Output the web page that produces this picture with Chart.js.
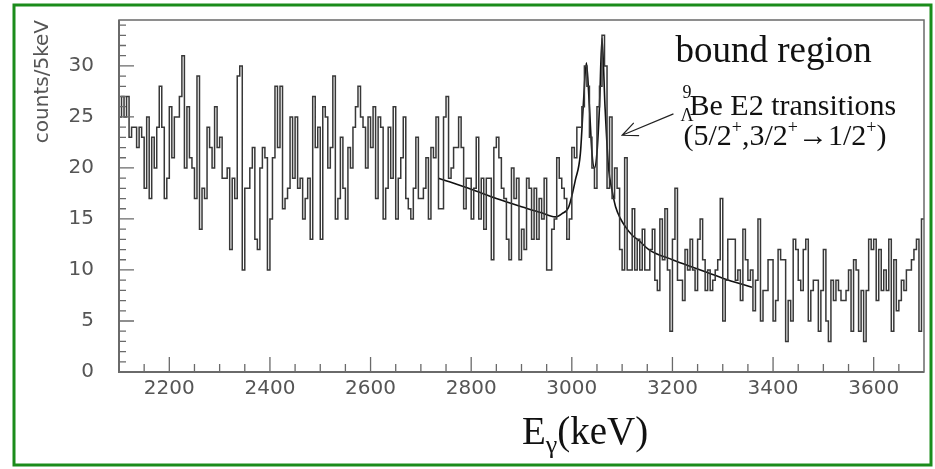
<!DOCTYPE html>
<html lang="en">
<head>
<meta charset="UTF-8">
<title>Bound region - E2 transitions</title>
<script src="https://cdn.jsdelivr.net/npm/chart.js"></script>
<style>
    body {
        margin: 0;
        padding: 0;
        background: #fff;
    }
    .container {
        position: relative;
        width: 935px;
        height: 469px;
    }
</style>
</head>
<body>
<div class="container"><canvas id="grafico"></canvas></div>
<script>
// histogram: 5 keV bins, first bin starts at 2100 keV
const binStart = 2100;
const binWidth = 5;

// counts per bin (one array per 300-400 keV stretch)
const counts2100 = [25, 27, 25, 27, 23, 24, 24, 22, 24, 23, 18, 25, 17, 23, 20, 24, 28, 24, 17, 19,
                    26, 21, 25, 25, 27, 31, 20, 26, 21, 20, 17, 29, 14, 18, 17, 24, 22, 20, 26, 22,
                    23, 19, 19, 20, 12, 19, 17, 29, 30, 10, 18, 18, 20, 22, 13, 12, 20, 22, 21, 10];
const counts2400 = [15, 21, 28, 22, 28, 16, 17, 18, 25, 19, 25, 18, 19, 15, 17, 19, 13, 27, 22, 24,
                    13, 26, 25, 20, 22, 29, 15, 17, 23, 18, 15, 22, 20, 24, 26, 28, 25, 24, 20, 25,
                    22, 26, 17, 25, 24, 15, 18, 24, 19, 26, 15, 19, 21, 25, 17, 16, 15, 18, 23, 17];
const counts2700 = [17, 18, 21, 15, 22, 21, 25, 16, 16, 25, 27, 19, 20, 22, 22, 25, 22, 16, 19, 19,
                    15, 18, 23, 15, 19, 14, 19, 19, 11, 22, 23, 21, 18, 17, 13, 11, 20, 17, 19, 11,
                    14, 12, 19, 18, 13, 18, 13, 17, 15, 19, 10, 10, 14, 15, 21, 19, 18, 17, 13, 15];
const counts3000 = [22, 21, 24, 24, 26, 30, 28, 23, 20, 18, 26, 28, 33, 30, 18, 25, 17, 20, 18, 12,
                    10, 21, 10, 10, 16, 10, 13, 10, 14, 10, 10, 12, 14, 9, 8, 15, 11, 16, 10, 4,
                    13, 18, 9, 9, 7, 12, 10, 13, 10, 8, 13, 15, 11, 8, 10, 8, 9, 10, 11, 17];
const counts3300 = [5, 9, 13, 13, 13, 9, 10, 7, 14, 11, 9, 10, 6, 9, 15, 5, 8, 8, 11, 11,
                    5, 7, 12, 11, 11, 3, 7, 5, 13, 12, 9, 8, 12, 13, 5, 8, 9, 9, 4, 8,
                    12, 5, 3, 9, 7, 9, 8, 7, 7, 8, 10, 4, 11, 10, 4, 8, 3, 8, 13, 12,
                    13, 7, 12, 8, 10, 8, 13, 4, 11, 6, 7, 9, 8, 10, 10, 11, 12, 13, 4, 15];

// fitted curve (background + two peaks)
const fitE = [2735, 2800, 2850, 2900, 2940, 2967, 2980, 2994, 3007, 3017, 3023, 3029, 3035, 3040,
              3045, 3050, 3055, 3060, 3066, 3073, 3080, 3087, 3097, 3107, 3120, 3133, 3153, 3200,
              3250, 3300, 3358];
const fitY = [19.0, 17.9, 17.0, 16.2, 15.6, 15.2, 15.5, 16.2, 18.8, 21.4, 26.3, 30.3, 26.0, 21.5,
              20.0, 21.5, 26.0, 32.7, 26.0, 20.0, 17.8, 16.2, 15.0, 14.2, 13.4, 12.9, 12.0, 11.0,
              10.1, 9.2, 8.3];

const xTicks = [2200, 2400, 2600, 2800, 3000, 3200, 3400, 3600];
const yTicks = [0, 5, 10, 15, 20, 25, 30];

const counts = [].concat(counts2100, counts2400, counts2700, counts3000, counts3300);
const histPoints = counts.map((c, i) => ({ x: binStart + i * binWidth, y: c }));
histPoints.push({ x: binStart + counts.length * binWidth, y: counts[counts.length - 1] });
const fitPoints = fitE.map((e, i) => ({ x: e, y: fitY[i] }));

const sansFont = '"DejaVu Sans", sans-serif';
const serifFont = '"Liberation Serif", "Times New Roman", serif';

// draws a run of text pieces [text, size, dy] one after another
function drawRuns(ctx, x, y, runs) {
    runs.forEach(([t, size, dy]) => {
        ctx.font = size + 'px ' + serifFont;
        ctx.fillText(t, x, y + dy);
        x += ctx.measureText(t).width;
    });
    return x;
}

// no extra layout padding from the tick labels
function noPad(s) {
    s.paddingTop = 0;
    s.paddingBottom = 0;
    s.paddingLeft = 0;
    s.paddingRight = 0;
}

const decor = {
    id: 'decor',
    beforeDraw(chart) {
        const ctx = chart.ctx;
        ctx.save();
        ctx.fillStyle = '#fff';
        ctx.fillRect(0, 0, chart.width, chart.height);
        ctx.restore();
    },
    afterDraw(chart) {
        const ctx = chart.ctx;
        const a = chart.chartArea;
        const xs = chart.scales.x;
        const ys = chart.scales.y;
        ctx.save();

        // frame around the pad
        ctx.strokeStyle = '#6a6a6a';
        ctx.lineWidth = 1.5;
        ctx.strokeRect(a.left, a.top, a.right - a.left, a.bottom - a.top);
        ctx.lineWidth = 2;
        ctx.beginPath();
        ctx.moveTo(a.left, a.top);
        ctx.lineTo(a.left, a.bottom);
        ctx.lineTo(a.right, a.bottom);
        ctx.stroke();

        // inward ticks
        ctx.lineWidth = 1.3;
        ctx.beginPath();
        for (let e = 2150; e < 3700; e += 50) {
            const px = xs.getPixelForValue(e);
            const len = xTicks.includes(e) ? 15 : 8;
            ctx.moveTo(px, a.bottom);
            ctx.lineTo(px, a.bottom - len);
        }
        for (let v = 1; v < 35; v++) {
            const py = ys.getPixelForValue(v);
            const len = yTicks.includes(v) ? 15 : 7;
            ctx.moveTo(a.left, py);
            ctx.lineTo(a.left + len, py);
        }
        ctx.stroke();

        ctx.fillStyle = '#111';
        ctx.textBaseline = 'alphabetic';
        ctx.textAlign = 'left';

        // x axis title E_gamma(keV)
        drawRuns(ctx, 522, 444, [['E', 39, 0], ['\u03b3', 26, 9], ['(keV)', 39, 0]]);

        // "bound region"
        ctx.font = '37px ' + serifFont;
        ctx.fillText('bound region', xs.getPixelForValue(3206), ys.getPixelForValue(30.4));

        // annotation
        const tx = xs.getPixelForValue(3222);
        const ty1 = ys.getPixelForValue(25.2);
        const ty2 = ys.getPixelForValue(22.2);
        ctx.font = '18px ' + serifFont;
        ctx.fillText('9', tx - 1, ty1 - 17);
        ctx.fillText('\u039b', tx - 3, ty1 + 6);
        drawRuns(ctx, tx + 6, ty1, [['Be E2 transitions', 30, 0]]);
        drawRuns(ctx, tx, ty2, [
            ['(5/2', 30, 0], ['+', 18, -12], [',3/2', 30, 0], ['+', 18, -12],
            ['\u21921/2', 30, 0], ['+', 18, -12], [')', 30, 0]
        ]);

        // arrow pointing at the peaks
        const x0 = xs.getPixelForValue(3202), y0 = ys.getPixelForValue(25.3);
        const x1 = xs.getPixelForValue(3100), y1 = ys.getPixelForValue(23.2);
        const ang = Math.atan2(y0 - y1, x0 - x1);
        ctx.strokeStyle = '#222';
        ctx.lineWidth = 1.2;
        ctx.beginPath();
        ctx.moveTo(x0, y0);
        ctx.lineTo(x1, y1);
        ctx.moveTo(x1 + 17 * Math.cos(ang - 0.42), y1 + 17 * Math.sin(ang - 0.42));
        ctx.lineTo(x1, y1);
        ctx.lineTo(x1 + 17 * Math.cos(ang + 0.42), y1 + 17 * Math.sin(ang + 0.42));
        ctx.stroke();

        // green border of the picture
        ctx.strokeStyle = '#1b8c1b';
        ctx.lineWidth = 3;
        ctx.strokeRect(14, 5, 917, 460);
        ctx.restore();
    }
};

new Chart(document.getElementById('grafico'), {
    type: 'line',
    data: {
        datasets: [
            {
                label: 'counts',
                data: histPoints,
                stepped: true,
                borderColor: '#383838',
                borderWidth: 1.5,
                pointRadius: 0,
                fill: false
            },
            {
                label: 'fit',
                data: fitPoints,
                borderColor: '#111',
                borderWidth: 1.6,
                pointRadius: 0,
                cubicInterpolationMode: 'monotone',
                fill: false
            }
        ]
    },
    options: {
        responsive: true,
        maintainAspectRatio: false,
        animation: false,
        events: [],
        layout: { padding: { top: 20, right: 11, left: 0, bottom: 0 } },
        plugins: {
            legend: { display: false },
            tooltip: { enabled: false }
        },
        scales: {
            x: {
                type: 'linear',
                min: 2100,
                max: 3700,
                afterBuildTicks: s => { s.ticks = xTicks.map(v => ({ value: v })); },
                afterFit: s => { s.height = 97; noPad(s); },
                grid: { display: false, drawTicks: false },
                border: { display: false },
                ticks: {
                    padding: 5,
                    color: '#555',
                    font: { family: sansFont, size: 20 },
                    maxRotation: 0,
                    callback: v => String(v)
                }
            },
            y: {
                min: 0,
                max: 34.5,
                afterBuildTicks: s => { s.ticks = yTicks.map(v => ({ value: v })); },
                afterFit: s => { s.width = 119; noPad(s); },
                grid: { display: false, drawTicks: false },
                border: { display: false },
                ticks: {
                    padding: 25,
                    color: '#555',
                    font: { family: sansFont, size: 20 },
                    callback: v => String(v)
                },
                title: {
                    display: true,
                    text: 'counts/5keV',
                    align: 'end',
                    color: '#555',
                    font: { family: sansFont, size: 20 },
                    padding: { top: 31, bottom: 0 }
                }
            }
        }
    },
    plugins: [decor]
});
</script>
</body>
</html>
